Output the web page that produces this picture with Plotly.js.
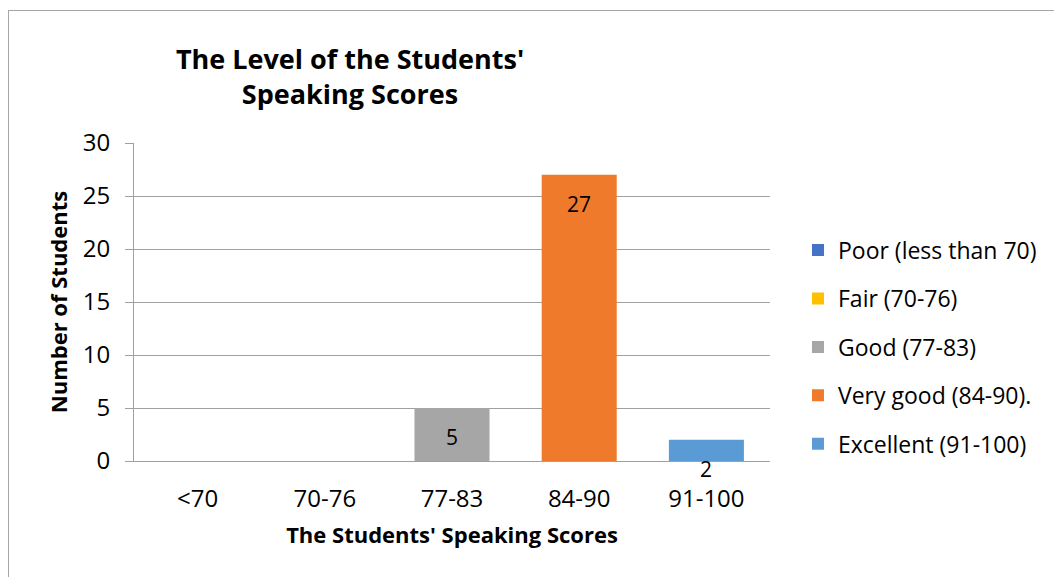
<!DOCTYPE html>
<html>
<head>
<meta charset="utf-8">
<script src="https://cdn.plot.ly/plotly-3.0.1.min.js"></script>
<style>
  html, body { margin: 0; padding: 0; background: #fff; }
  #wrap { position: relative; width: 1054px; height: 577px; }
  #chart { width: 1054px; height: 577px; }
  #frame { position: absolute; left: 8px; top: 10px; width: 1060px; height: 580px; border: 1px solid #a6a6a6; box-sizing: border-box; pointer-events: none; }
</style>
</head>
<body>
<div id="wrap">
  <div id="chart"></div>
  <div id="frame"></div>
</div>
<script>
const categories = ['<70', '70-76', '77-83', '84-90', '91-100'];
const seriesNames = ['Poor (less than 70)', 'Fair (70-76)', 'Good (77-83)', 'Very good (84-90).', 'Excellent (91-100)'];
const poorValues = [null, null, null, null, null];
const fairValues = [null, null, null, null, null];
const goodValues = [null, null, 5, null, null];
const veryGoodValues = [null, null, null, 27, null];
const excellentValues = [null, null, null, null, 2];
const seriesColors = ['#4472C4', '#FFC000', '#A6A6A6', '#EF7A2B', '#5B9BD5'];

const allValues = [poorValues, fairValues, goodValues, veryGoodValues, excellentValues];
const font = "'Open Sans', 'Noto Sans', sans-serif";

const traces = allValues.map((vals, i) => ({
  type: 'bar',
  name: seriesNames[i],
  x: categories,
  y: vals,
  legendgroup: 'g' + i,
  marker: { color: seriesColors[i] },
  hoverinfo: 'x+y+name'
}));

// data labels placed just inside the top of each bar (Excel "inside end")
const annotations = [];
allValues.forEach(vals => {
  vals.forEach((v, j) => {
    if (v !== null) {
      annotations.push({
        x: categories[j], y: v, xref: 'x', yref: 'y',
        text: String(v), showarrow: false,
        yanchor: 'middle', yshift: -29, borderpad: 0,
        font: { family: font, size: 21, color: '#000' }
      });
    }
  });
});

const layout = {
  width: 1054,
  height: 577,
  margin: { l: 134, r: 282, t: 143, b: 116 },
  paper_bgcolor: '#fff',
  plot_bgcolor: '#fff',
  barmode: 'overlay',
  bargap: 0.41,
  font: { family: font, size: 24, color: '#000' },
  title: {
    text: "<b>The Level of the Students'</b><br><b>Speaking Scores</b>",
    font: { family: font, size: 27, color: '#000' },
    xref: 'container', x: 350 / 1054, xanchor: 'center',
    yref: 'container', y: 1 - 69 / 577, yanchor: 'top'
  },
  annotations: annotations,
  xaxis: {
    type: 'category',
    categoryorder: 'array',
    categoryarray: categories,
    showgrid: false,
    showline: true,
    linecolor: '#a0a0a0',
    linewidth: 1,
    ticks: '',
    ticklabelstandoff: 16,
    tickfont: { family: font, size: 24, color: '#000' },
    title: {
      text: "<b>The Students' Speaking Scores</b>",
      font: { family: font, size: 22, color: '#000' },
      standoff: 14
    },
    zeroline: false
  },
  yaxis: {
    range: [0, 30],
    dtick: 5,
    showgrid: true,
    gridcolor: '#a0a0a0',
    gridwidth: 1,
    showline: true,
    linecolor: '#a0a0a0',
    linewidth: 1,
    ticks: 'outside',
    ticklen: 8,
    tickcolor: '#a0a0a0',
    ticklabelstandoff: 10,
    tickfont: { family: font, size: 24, color: '#000' },
    title: {
      text: '<b>Number of Students</b>',
      font: { family: font, size: 22, color: '#000' },
      standoff: 9
    },
    zeroline: false
  },
  legend: {
    x: 1.044, xanchor: 'left',
    y: 0.358, yanchor: 'middle',
    traceorder: 'grouped',
    tracegroupgap: 15.5,
    font: { family: font, size: 23, color: '#000' },
    bgcolor: 'rgba(0,0,0,0)'
  },
  showlegend: true
};

Plotly.newPlot('chart', traces, layout, { displayModeBar: false, staticPlot: true });
</script>
</body>
</html>
